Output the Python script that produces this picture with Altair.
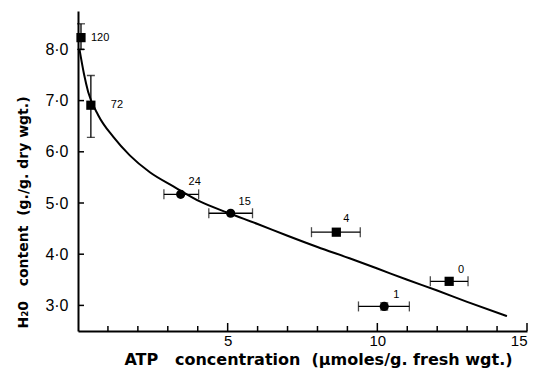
import altair as alt
import pandas as pd

# ---- data ----
labels = ["120", "72", "24", "15", "4", "0", "1"]
atp = [0.1, 0.43, 3.43, 5.1, 8.63, 12.4, 10.23]
water = [8.23, 6.91, 5.17, 4.8, 4.43, 3.47, 2.98]
atp_lo = [0.1, 0.43, 2.87, 4.37, 7.8, 11.77, 9.37]
atp_hi = [0.1, 0.43, 4.03, 5.83, 9.43, 13.03, 11.07]
water_lo = [8.0, 6.28, 5.17, 4.8, 4.43, 3.47, 2.91]
water_hi = [8.5, 7.49, 5.17, 4.8, 4.43, 3.47, 3.05]
shapes = ["square", "square", "circle", "circle", "square", "square", "circle"]

curve_x = [0.05, 0.2, 0.34, 0.68, 1.18, 1.73, 2.4, 3.2, 4.07, 5.0, 6.0, 7.0, 8.0, 9.07, 10.0, 11.0, 12.0, 13.0, 14.33]
curve_y = [8.0, 7.52, 7.17, 6.71, 6.29, 5.93, 5.6, 5.32, 5.03, 4.81, 4.59, 4.36, 4.14, 3.92, 3.72, 3.5, 3.29, 3.07, 2.79]

x_minor_ticks = [1, 2, 3, 4, 6, 7, 8, 9, 11, 12, 13, 14]
x_major_ticks = [5, 10, 15]
y_ticks = [3, 4, 5, 6, 7, 8]

# label offsets (style, in pixels)
label_dx = [10, 20, 14, 14, 10, 12, 12]
label_dy = [0, 0, -12, -11, -13, -11, -11]

W, H = 449, 320
FONT = "Liberation Sans"
TFONT = "DejaVu Sans"
NB = "\u00a0"

pts = pd.DataFrame({"label": labels, "atp": atp, "water": water,
                    "atp_lo": atp_lo, "atp_hi": atp_hi,
                    "water_lo": water_lo, "water_hi": water_hi,
                    "shape": shapes})
curve = pd.DataFrame({"atp": curve_x, "water": curve_y})
xt_minor = pd.DataFrame({"v": x_minor_ticks})
xt_major = pd.DataFrame({"v": x_major_ticks})
yt = pd.DataFrame({"v": y_ticks})

xs = alt.Scale(domain=[0, 15], nice=False, zero=False)
ys = alt.Scale(domain=[2.5, 8.75], nice=False, zero=False)

xaxis = alt.Axis(values=x_major_ticks, ticks=False, grid=False, domainColor="black",
                 domainWidth=2, labelFont=FONT, labelFontSize=15, labelColor="black",
                 labelPadding=2,
                 title=f"ATP{NB*3}concentration{NB*2}(µmoles/g. fresh wgt.)",
                 titleFont=TFONT, titleFontSize=16, titleFontWeight="bold",
                 titleColor="black", titleX=240, titleY=28, titleBaseline="middle")
yaxis = alt.Axis(values=y_ticks, ticks=False, grid=False, domainColor="black",
                 domainWidth=2, labelFont=FONT, labelFontSize=16, labelColor="black",
                 labelPadding=10, labelExpr="replace(format(datum.value, '.1f'), '.', '·')",
                 title=f"H₂0{NB*3}content{NB*2}(g./g. dry wgt.)", titleFont=TFONT,
                 titleFontSize=14, titleFontWeight="bold", titleColor="black",
                 titleX=-55, titleY=201, titleBaseline="middle")

base = alt.Chart(pts)

line = alt.Chart(curve).mark_line(color="black", strokeWidth=2, interpolate="monotone").encode(
    x=alt.X("atp:Q", scale=xs, axis=xaxis),
    y=alt.Y("water:Q", scale=ys, axis=yaxis),
)

hbar = base.mark_rule(color="black", strokeWidth=1.3).encode(
    x=alt.X("atp_lo:Q", scale=xs), x2="atp_hi:Q", y=alt.Y("water:Q", scale=ys))
vbar = base.mark_rule(color="black", strokeWidth=1.3).encode(
    x=alt.X("atp:Q", scale=xs), y=alt.Y("water_lo:Q", scale=ys), y2="water_hi:Q")

hcap_lo = base.transform_filter("datum.atp_hi > datum.atp_lo").mark_tick(
    color="black", orient="vertical", size=10, thickness=1.3).encode(
    x=alt.X("atp_lo:Q", scale=xs), y=alt.Y("water:Q", scale=ys))
hcap_hi = base.transform_filter("datum.atp_hi > datum.atp_lo").mark_tick(
    color="black", orient="vertical", size=10, thickness=1.3).encode(
    x=alt.X("atp_hi:Q", scale=xs), y=alt.Y("water:Q", scale=ys))
vcap_lo = base.transform_filter("datum.water_hi > datum.water_lo").mark_tick(
    color="black", orient="horizontal", size=8, thickness=1.3).encode(
    x=alt.X("atp:Q", scale=xs), y=alt.Y("water_lo:Q", scale=ys))
vcap_hi = base.transform_filter("datum.water_hi > datum.water_lo").mark_tick(
    color="black", orient="horizontal", size=8, thickness=1.3).encode(
    x=alt.X("atp:Q", scale=xs), y=alt.Y("water_hi:Q", scale=ys))

markers = base.mark_point(filled=True, color="black", opacity=1, size=85).encode(
    x=alt.X("atp:Q", scale=xs), y=alt.Y("water:Q", scale=ys),
    shape=alt.Shape("shape:N", scale=None))

texts = []
for i in range(len(labels)):
    texts.append(
        base.transform_filter(alt.datum.label == labels[i]).mark_text(
            font=FONT, fontSize=11, color="black", align="left" if label_dy[i] == 0 else "center",
            baseline="middle", dx=label_dx[i], dy=label_dy[i]).encode(
            x=alt.X("atp:Q", scale=xs), y=alt.Y("water:Q", scale=ys), text="label:N"))

xtick_minor = alt.Chart(xt_minor).mark_rule(color="black", strokeWidth=1.5).encode(
    x=alt.X("v:Q", scale=xs), y=alt.value(H), y2=alt.value(H - 5))
xtick_major = alt.Chart(xt_major).mark_rule(color="black", strokeWidth=1.5).encode(
    x=alt.X("v:Q", scale=xs), y=alt.value(H), y2=alt.value(H - 8))
ytick = alt.Chart(yt).mark_rule(color="black", strokeWidth=1.5).encode(
    y=alt.Y("v:Q", scale=ys), x=alt.value(0), x2=alt.value(6))

chart = alt.layer(line, hbar, vbar, hcap_lo, hcap_hi, vcap_lo, vcap_hi, markers,
                  xtick_minor, xtick_major, ytick, *texts).properties(
    width=W, height=H,
    autosize=alt.AutoSizeParams(type="none"),
    padding={"left": 78, "top": 11, "right": 10, "bottom": 38},
    background="white",
).configure_view(stroke=None)

chart.save("out.html", embed_options={"renderer": "svg", "actions": False})
